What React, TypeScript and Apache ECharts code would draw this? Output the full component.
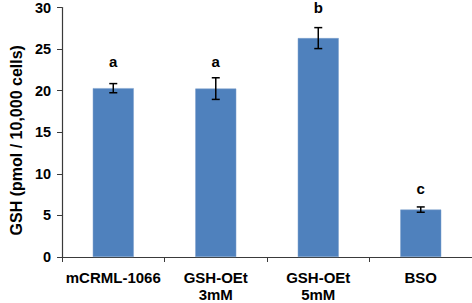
import React, { useEffect, useRef } from "react";
import * as echarts from "echarts";

const categories = ["mCRML-1066", "GSH-OEt\n3mM", "GSH-OEt\n5mM", "BSO"];
const means = [20.3, 20.25, 26.32, 5.7];
const errors = [0.55, 1.3, 1.26, 0.32];
const letters = ["a", "a", "b", "c"];
const letterY = [23.0, 23.0, 29.4, 7.7];
const yTicks = { min: 0, max: 30, interval: 5 };
const yName = "GSH (pmol / 10,000 cells)";

const FONT = "'Liberation Sans', Arial, sans-serif";

export default function App() {
  const ref = useRef<HTMLDivElement>(null);
  useEffect(() => {
    document.body.style.margin = "0";
    const chart = echarts.init(ref.current!, null, { renderer: "svg" });
    chart.setOption({
      animation: false,
      grid: { left: 52, right: 0, top: 7, bottom: 46, containLabel: false },
      xAxis: {
        type: "category",
        data: categories,
        axisLine: { lineStyle: { color: "#3a3a3a", width: 1.2 } },
        axisTick: { show: true, length: 5, inside: false, alignWithLabel: false, lineStyle: { color: "#3a3a3a" } },
        axisLabel: {
          color: "#000",
          fontFamily: FONT,
          fontWeight: "bold",
          fontSize: 15,
          lineHeight: 17,
          margin: 12,
          interval: 0,
        },
      },
      yAxis: {
        type: "value",
        min: yTicks.min,
        max: yTicks.max,
        interval: yTicks.interval,
        name: yName,
        nameLocation: "middle",
        nameGap: 36,
        nameTextStyle: {
          color: "#000",
          fontFamily: FONT,
          fontWeight: "bold",
          fontSize: 16,
          padding: [0, 16, 0, 0],
        },
        splitLine: { show: false },
        axisLine: { show: true, lineStyle: { color: "#3a3a3a", width: 1.2 } },
        axisTick: { show: true, length: 5, lineStyle: { color: "#3a3a3a" } },
        axisLabel: {
          color: "#000",
          fontFamily: FONT,
          fontWeight: "bold",
          fontSize: 14.5,
          margin: 11,
        },
      },
      series: [
        {
          type: "bar",
          data: means,
          barWidth: "40%",
          itemStyle: { color: "#4F81BD", borderColor: "#7da0cc", borderWidth: 0.5 },
        },
        {
          type: "custom",
          data: means.map((m, i) => [i, m - errors[i], m + errors[i]]),
          renderItem: (params: any, api: any) => {
            const i = api.value(0);
            const lo = api.coord([i, api.value(1)]);
            const hi = api.coord([i, api.value(2)]);
            const hw = 4;
            const style = { stroke: "#000", lineWidth: 1.5 };
            return {
              type: "group",
              children: [
                { type: "line", shape: { x1: lo[0], y1: lo[1], x2: hi[0], y2: hi[1] }, style },
                { type: "line", shape: { x1: lo[0] - hw, y1: lo[1], x2: lo[0] + hw, y2: lo[1] }, style },
                { type: "line", shape: { x1: hi[0] - hw, y1: hi[1], x2: hi[0] + hw, y2: hi[1] }, style },
              ],
            };
          },
          z: 10,
        },
        {
          type: "custom",
          data: letterY.map((v, i) => [i, v]),
          renderItem: (params: any, api: any) => {
            const i = api.value(0);
            const p = api.coord([i, api.value(1)]);
            return {
              type: "text",
              x: p[0],
              y: p[1] + 3,
              style: {
                text: letters[i],
                fill: "#000",
                font: `bold 15px ${FONT}`,
                textAlign: "center",
                textVerticalAlign: "bottom",
              },
            };
          },
          z: 10,
        },
      ],
    });
    return () => chart.dispose();
  }, []);
  return <div ref={ref} style={{ width: 472, height: 303 }} />;
}
